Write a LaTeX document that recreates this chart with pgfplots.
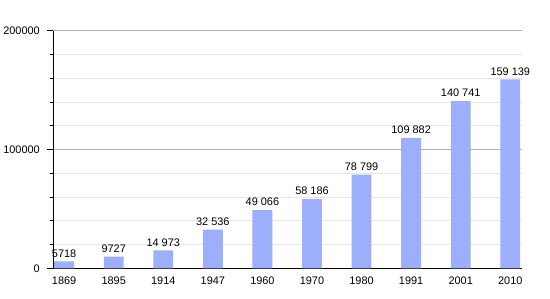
\documentclass[border=0pt]{standalone}
\usepackage{pgfplots}
\usepackage{pgfplotstable}
\usepackage{fontspec}
\setmainfont{Liberation Sans}
\pgfplotsset{compat=1.18}
\definecolor{barblue}{RGB}{157,174,251}
\definecolor{majgrid}{RGB}{176,176,176}
\definecolor{mingrid}{RGB}{230,230,230}
\pgfplotstableread[col sep=comma]{
x,y,label
0,5718,5718
1,9727,9727
2,14973,14 973
3,32536,32 536
4,49066,49 066
5,58186,58 186
6,78799,78 799
7,109882,109 882
8,140741,140 741
9,159139,159 139
}\datatable
\begin{document}
\begin{tikzpicture}
\begin{axis}[
  scale only axis,
  width=472bp, height=239bp,
  xmin=-0.22, xmax=9.24,
  ymin=0, ymax=200000,
  clip=false,
  axis x line*=bottom,
  axis y line*=left,
  axis line style={black, line width=0.9pt},
  xtick={0,...,9},
  xticklabels={1869,1895,1914,1947,1960,1970,1980,1991,2001,2010},
  x tick style={draw=none},
  ytick={0,100000,200000},
  yticklabels={0,100000,200000},
  minor ytick={20000,40000,60000,80000,120000,140000,160000,180000},
  tick align=outside,
  major tick length=6bp,
  minor tick length=3.5bp,
  y tick style={black, line width=0.7pt},
  ymajorgrids, yminorgrids,
  major grid style={majgrid, line width=0.8pt},
  minor grid style={mingrid, line width=0.8pt},
  scaled y ticks=false,
  tick label style={font=\fontsize{11bp}{13bp}\selectfont},
  /pgf/number format/assume math mode=true,
  yticklabel style={xshift=-4bp},
  xticklabel style={yshift=1bp},
  nodes near coords,
  point meta=explicit symbolic,
  nodes near coords style={font=\fontsize{11bp}{13bp}\selectfont, anchor=south, inner sep=1.5bp, yshift=2.5bp},
]
\addplot[ybar, bar width=20bp, fill=barblue, draw=none] table[x=x, y=y, meta=label] {\datatable};
\path (rel axis cs:-0.10593,-0.12552) rectangle (rel axis cs:1.05932,1.12971);
\end{axis}
\end{tikzpicture}
\end{document}
